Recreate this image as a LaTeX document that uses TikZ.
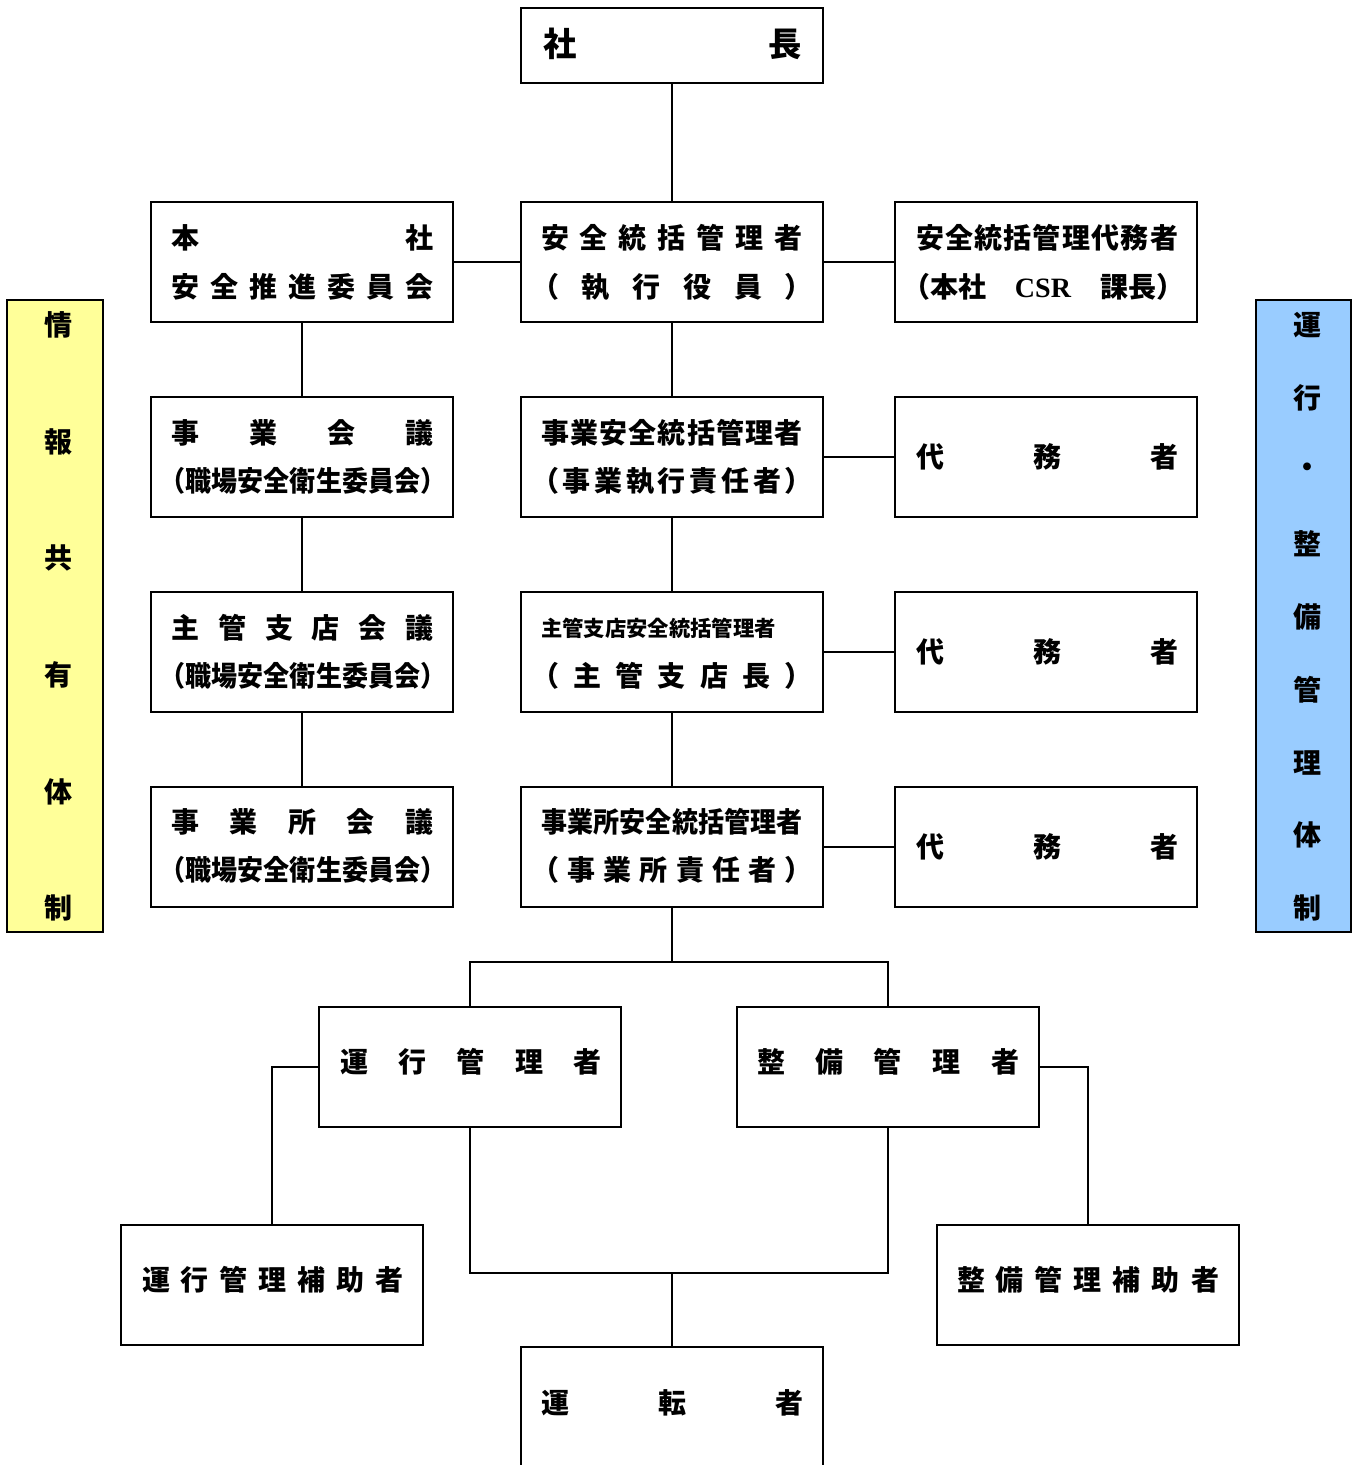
\documentclass[tikz,border=0pt]{standalone}
\usepackage{fontspec}
\usepackage{graphicx}
\setmainfont{Noto Sans CJK JP}
\newfontfamily\csrfont{Liberation Serif}
\definecolor{sideyellow}{HTML}{FFFF99}
\definecolor{sideblue}{HTML}{99CCFF}
\tikzset{
  box/.style={draw, line width=1.3pt, minimum width=226.5pt, minimum height=90pt, inner sep=0pt},
  lbl/.style={inner sep=0pt, font=\fontsize{21pt}{24pt}\selectfont\bfseries},
  conn/.style={line width=1.3pt},
  sidebar/.style={draw, line width=1.3pt, inner sep=0pt, minimum height=474pt},
}
\newcommand{\sprd}[1]{\hbox to 196.5pt{#1}}
\newcommand{\sprp}[1]{\hbox to 211.5pt{#1}}
\newcommand{\cond}[2]{\scalebox{#1}[1]{#2}}
\begin{document}
\begin{tikzpicture}[x=0.75pt,y=-0.75pt]
\useasboundingbox (0,0) rectangle (1358,1465);

% side bars
\node[sidebar, fill=sideyellow, minimum width=72pt] (infobar) at (55,616) {};
\foreach \c/\y/\i in {情/325/1,報/442/2,共/558/3,有/675/4,体/792/5,制/908/6}
  \node[lbl] (infoch\i) at (59,\y) {\c};
\node[sidebar, fill=sideblue, minimum width=71.25pt] (opbar) at (1303.5,616) {};
\foreach \c/\y/\i in {運/325/1,行/398/2,・/470/3,整/544/4,備/617/5,管/690/6,理/763/7,体/835/8,制/908/9}
  \node[lbl] (opch\i) at (1307,\y) {\c};

% president
\node[box, minimum height=56.25pt] (bPres) at (672,45.5) {};
\node[lbl, font=\fontsize{25pt}{28pt}\selectfont\bfseries] (tPres) at (672.5,44) {\hbox to 194pt{社\hfill 長}};

% row 1
\node[box] (bL1) at (302,262) {};
\node[box] (bC1) at (672,262) {};
\node[box] (bR1) at (1046,262) {};
\node[lbl] (tL1a) at (302.5,238) {\sprd{本\hfill 社}};
\node[lbl] (tL1b) at (302.5,287) {\sprd{安\hfill 全\hfill 推\hfill 進\hfill 委\hfill 員\hfill 会}};
\node[lbl] (tC1a) at (672,238) {\sprd{安\hfill 全\hfill 統\hfill 括\hfill 管\hfill 理\hfill 者}};
\node[lbl] (tC1b) at (672,287) {\sprp{（\hfill 執\hfill 行\hfill 役\hfill 員\hfill ）}};
\node[lbl] (tR1a) at (1047,238) {\sprd{安\hfil 全\hfil 統\hfil 括\hfil 管\hfil 理\hfil 代\hfil 務\hfil 者}};
\node[lbl] (tR1b) at (1043,287) {\sprp{（本社\hfill{\csrfont\bfseries CSR}\hfill 課長）}};

% row 2
\node[box] (bL2) at (302,457) {};
\node[box] (bC2) at (672,457) {};
\node[box] (bR2) at (1046,457) {};
\node[lbl] (tL2a) at (302.5,433) {\sprd{事\hfill 業\hfill 会\hfill 議}};
\node[lbl] (tL2b) at (303,481) {\cond{0.93}{（職場安全衛生委員会）}};
\node[lbl] (tC2a) at (672,433) {\sprd{事\hfil 業\hfil 安\hfil 全\hfil 統\hfil 括\hfil 管\hfil 理\hfil 者}};
\node[lbl] (tC2b) at (672,481) {\sprp{（\hfil 事\hfil 業\hfil 執\hfil 行\hfil 責\hfil 任\hfil 者\hfil ）}};
\node[lbl] (tR2a) at (1047,457) {\sprd{代\hfill 務\hfill 者}};

% row 3
\node[box] (bL3) at (302,652) {};
\node[box] (bC3) at (672,652) {};
\node[box] (bR3) at (1046,652) {};
\node[lbl] (tL3a) at (302.5,628) {\sprd{主\hfill 管\hfill 支\hfill 店\hfill 会\hfill 議}};
\node[lbl] (tL3b) at (303,676) {\cond{0.93}{（職場安全衛生委員会）}};
\node[lbl, anchor=west, font=\fontsize{16pt}{19pt}\selectfont\bfseries] (tC3a) at (541,628) {主管支店安全統括管理者};
\node[lbl] (tC3b) at (672,676) {\sprp{（\hfill 主\hfill 管\hfill 支\hfill 店\hfill 長\hfill ）}};
\node[lbl] (tR3a) at (1047,652) {\sprd{代\hfill 務\hfill 者}};

% row 4
\node[box] (bL4) at (302,847) {};
\node[box] (bC4) at (672,847) {};
\node[box] (bR4) at (1046,847) {};
\node[lbl] (tL4a) at (302.5,822) {\sprd{事\hfill 業\hfill 所\hfill 会\hfill 議}};
\node[lbl] (tL4b) at (303,870) {\cond{0.93}{（職場安全衛生委員会）}};
\node[lbl] (tC4a) at (672,822) {\cond{0.93}{事業所安全統括管理者}};
\node[lbl] (tC4b) at (672,870) {\sprp{（\hfill 事\hfill 業\hfill 所\hfill 責\hfill 任\hfill 者\hfill ）}};
\node[lbl] (tR4a) at (1047,847) {\sprd{代\hfill 務\hfill 者}};

% row 5
\node[box] (bOp) at (470,1067) {};
\node[box] (bMt) at (888,1067) {};
\node[lbl] (tOp) at (471,1062) {\sprd{運\hfill 行\hfill 管\hfill 理\hfill 者}};
\node[lbl] (tMt) at (888,1062) {\sprd{整\hfill 備\hfill 管\hfill 理\hfill 者}};

% row 6
\node[box] (bOpA) at (272,1285) {};
\node[box] (bMtA) at (1088,1285) {};
\node[lbl] (tOpA) at (273,1280) {\sprd{運\hfill 行\hfill 管\hfill 理\hfill 補\hfill 助\hfill 者}};
\node[lbl] (tMtA) at (1088,1280) {\sprd{整\hfill 備\hfill 管\hfill 理\hfill 補\hfill 助\hfill 者}};

% drivers (box runs past the bottom edge)
\begin{scope}
  \clip (0,0) rectangle (1358,1465);
  \node[box, minimum height=97.5pt] (bDrv) at (672,1412) {};
\end{scope}
\node[lbl] (tDrv) at (672,1403) {\sprd{運\hfill 転\hfill 者}};

% connectors
\draw[conn] (bPres.south) -- (bC1.north);
\draw[conn] (bL1.east) -- (bC1.west);
\draw[conn] (bC1.east) -- (bR1.west);
\draw[conn] (bC1.south) -- (bC2.north);
\draw[conn] (bC2.south) -- (bC3.north);
\draw[conn] (bC3.south) -- (bC4.north);
\draw[conn] (bL1.south) -- (bL2.north);
\draw[conn] (bL2.south) -- (bL3.north);
\draw[conn] (bL3.south) -- (bL4.north);
\draw[conn] (bC2.east) -- (bR2.west);
\draw[conn] (bC3.east) -- (bR3.west);
\draw[conn] (bC4.east) -- (bR4.west);
\coordinate (j1) at (672,962);
\draw[conn] (bC4.south) -- (j1);
\draw[conn] (bOp.north) |- (j1) -| (bMt.north);
\draw[conn] (bOp.west) -| (bOpA.north);
\draw[conn] (bMt.east) -| (bMtA.north);
\coordinate (j2) at (672,1273);
\draw[conn] (bOp.south) |- (j2) -| (bMt.south);
\draw[conn] (j2) -- (bDrv.north);
\end{tikzpicture}
\end{document}
